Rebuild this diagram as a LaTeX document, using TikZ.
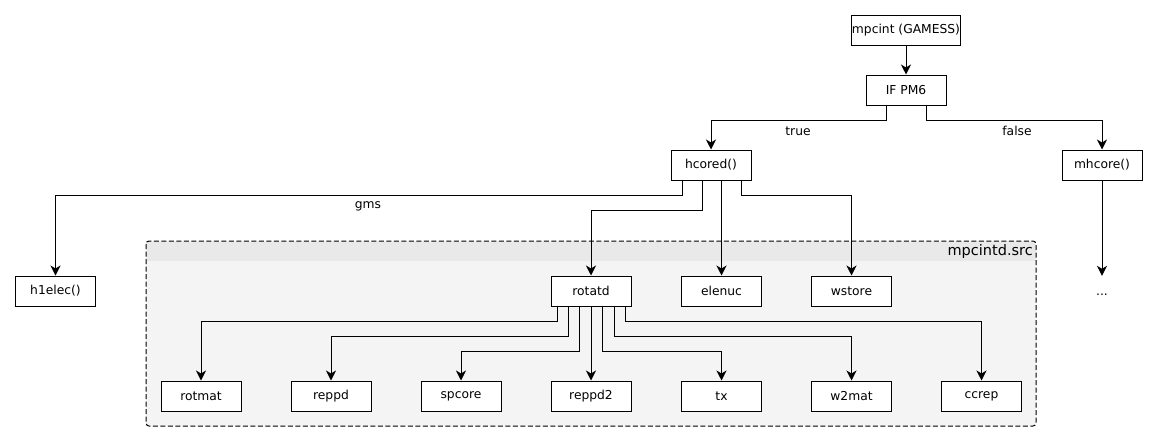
\documentclass[tikz,border=0pt]{standalone}
\usepackage{fontspec}
\setmainfont{DejaVu Sans}
\usetikzlibrary{arrows.meta,calc}
\begin{document}
\begin{tikzpicture}[x=1pt,y=-1pt,
  every node/.style={font=\fontsize{12.3}{14}\selectfont},
  box/.style={draw, fill=white, line width=1pt, minimum width=80pt, minimum height=30pt, inner sep=0pt},
  plain/.style={minimum width=10pt, minimum height=38pt, inner sep=0pt},
  lbl/.style={inner sep=0pt},
  arr/.style={line width=1pt, -{Stealth[length=10pt,width=10pt,inset=3pt]}},
  ln/.style={line width=1pt}]
\useasboundingbox (0,0) rectangle (1157,442);
% container
\fill[fill={rgb,255:red,244;green,244;blue,244}, rounded corners=3pt] (146,241) rectangle (1036,426);
\fill[fill={rgb,255:red,233;green,233;blue,233}, rounded corners=3pt] (146.5,241.5) rectangle (1035.5,261);
\fill[fill={rgb,255:red,233;green,233;blue,233}] (146.5,250) rectangle (1035.5,261);
\draw[line width=1pt, dash pattern=on 5pt off 2.5pt, rounded corners=3pt] (146,241) rectangle (1036,426);
\node[anchor=east, inner sep=0pt, font=\fontsize{14.5}{16}\selectfont] (cname) at (1033,251) {mpcintd.src};
% nodes
\node[box] (mpcint) at (906,30) {mpcint (GAMESS)};
\node[box] (ifpm) at (906,90) {IF PM6};
\node[box] (hcored) at (711,165) {hcored()};
\node[box] (mhcore) at (1102,165) {mhcore()};
\node[box] (h1elec) at (55.5,291) {h1elec()};
\node[box] (rotatd) at (591,291) {rotatd};
\node[box] (elenuc) at (721.5,291) {elenuc};
\node[box] (wstore) at (851.5,291) {wstore};
\node[plain] (dots) at (1102,295) {...};
\node[box] (rotmat) at (201,396) {rotmat};
\node[box] (reppd) at (331,396) {reppd};
\node[box] (spcore) at (461,396) {spcore};
\node[box] (reppd2) at (591,396) {reppd2};
\node[box] (tx) at (721.5,396) {tx};
\node[box] (w2mat) at (851.5,396) {w2mat};
\node[box] (ccrep) at (981.5,396) {ccrep};
% labels
\node[lbl] (ltrue) at (798,131) {true};
\node[lbl] (lfalse) at (1017,131) {false};
\node[lbl] (lgms) at (368,206) {gms};
% edges
\draw[arr] (mpcint) -- (ifpm);
\draw[arr] ([xshift=-20pt]ifpm.south) -- ++(0,14.5) -| (hcored.north);
\draw[arr] ([xshift=20pt]ifpm.south) -- ++(0,14.5) -| (mhcore.north);
\draw[arr] (mhcore) -- (dots);
\draw[arr] ([xshift=-29pt]hcored.south) -- ++(0,15) -| (h1elec.north);
\draw[arr] ([xshift=-9pt]hcored.south) -- ++(0,30) -| (rotatd.north);
\draw[arr] ([xshift=10.5pt]hcored.south) -- (elenuc.north);
\draw[arr] ([xshift=30.5pt]hcored.south) -- ++(0,15) -| (wstore.north);
\draw[arr] ([xshift=-34pt]rotatd.south) -- ++(0,15) -| (rotmat.north);
\draw[arr] ([xshift=-23pt]rotatd.south) -- ++(0,30) -| (reppd.north);
\draw[arr] ([xshift=-11.5pt]rotatd.south) -- ++(0,45) -| (spcore.north);
\draw[arr] (rotatd.south) -- (reppd2.north);
\draw[arr] ([xshift=11.5pt]rotatd.south) -- ++(0,45) -| (tx.north);
\draw[arr] ([xshift=23pt]rotatd.south) -- ++(0,30) -| (w2mat.north);
\draw[arr] ([xshift=34pt]rotatd.south) -- ++(0,15) -| (ccrep.north);
\end{tikzpicture}
\end{document}
